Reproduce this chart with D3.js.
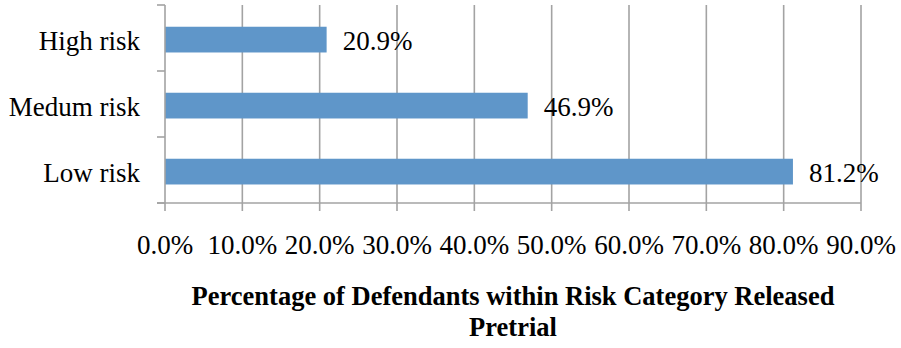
<!DOCTYPE html>
<html>
<head>
<meta charset="utf-8">
<script src="https://cdn.jsdelivr.net/npm/d3@7"></script>
<style>
  html, body { margin: 0; padding: 0; background: #fff; }
  text { font-family: "Liberation Serif", "Times New Roman", serif; fill: #000; }
</style>
</head>
<body>
<svg id="chart" width="901" height="348"></svg>
<script>
// Risk categories, top to bottom
const categories = ["High risk", "Medum risk", "Low risk"];
// Share of defendants released pretrial (%)
const releasedPct = [20.9, 46.9, 81.2];
// X-axis tick values (%)
const xTicks = [0, 10, 20, 30, 40, 50, 60, 70, 80, 90];
const titleLines = ["Percentage of Defendants within Risk Category Released", "Pretrial"];

const svg = d3.select("#chart");
const plot = { left: 165, right: 861, top: 5, bottom: 203 };

const x = d3.scaleLinear().domain([0, 90]).range([plot.left, plot.right]);
const y = d3.scaleBand().domain(categories).range([plot.top, plot.bottom])
  .paddingInner(0.61).paddingOuter(0.305).align(0.54);

const gridColor = "#a3a3a3";
const barColor = "#5f96c9";
const labelSize = 27;

// vertical gridlines
svg.append("g").selectAll("line").data(xTicks.filter(d => d > 0)).join("line")
  .attr("x1", d => x(d)).attr("x2", d => x(d))
  .attr("y1", plot.top).attr("y2", plot.bottom)
  .attr("stroke", gridColor).attr("stroke-width", 1.6);

// bars
svg.append("g").selectAll("rect").data(categories).join("rect")
  .attr("x", x(0))
  .attr("y", d => y(d))
  .attr("width", (d, i) => x(releasedPct[i]) - x(0))
  .attr("height", y.bandwidth())
  .attr("fill", barColor);

// y axis line and category-boundary ticks
const step = y.step();
const bounds = d3.range(categories.length + 1).map(i => plot.top + i * (plot.bottom - plot.top) / categories.length);
svg.append("line").attr("x1", plot.left).attr("x2", plot.left)
  .attr("y1", plot.top).attr("y2", plot.bottom).attr("stroke", gridColor).attr("stroke-width", 1.6);
svg.append("g").selectAll("line").data(bounds).join("line")
  .attr("x1", plot.left - 8).attr("x2", plot.left)
  .attr("y1", d => d).attr("y2", d => d)
  .attr("stroke", gridColor).attr("stroke-width", 1.6);

// x axis line and ticks
svg.append("line").attr("x1", plot.left - 8).attr("x2", plot.right)
  .attr("y1", plot.bottom).attr("y2", plot.bottom).attr("stroke", gridColor).attr("stroke-width", 1.6);
svg.append("g").selectAll("line").data(xTicks).join("line")
  .attr("x1", d => x(d)).attr("x2", d => x(d))
  .attr("y1", plot.bottom).attr("y2", plot.bottom + 8)
  .attr("stroke", gridColor).attr("stroke-width", 1.6);

// x tick labels
svg.append("g").selectAll("text").data(xTicks).join("text")
  .attr("x", d => x(d)).attr("y", 254)
  .attr("text-anchor", "middle").attr("font-size", labelSize)
  .text(d => d.toFixed(1) + "%");

// category labels
svg.append("g").selectAll("text").data(categories).join("text")
  .attr("x", 140).attr("y", d => y(d) + y.bandwidth() / 2 + 10)
  .attr("text-anchor", "end").attr("font-size", labelSize)
  .text(d => d);

// value labels
svg.append("g").selectAll("text").data(categories).join("text")
  .attr("x", (d, i) => x(releasedPct[i]) + 16)
  .attr("y", d => y(d) + y.bandwidth() / 2 + 10)
  .attr("font-size", labelSize)
  .text((d, i) => releasedPct[i].toFixed(1) + "%");

// axis title
svg.append("g").selectAll("text").data(titleLines).join("text")
  .attr("x", 513).attr("y", (d, i) => 305 + i * 31)
  .attr("text-anchor", "middle").attr("font-size", 26.5).attr("font-weight", "bold")
  .text(d => d);
</script>
</body>
</html>
